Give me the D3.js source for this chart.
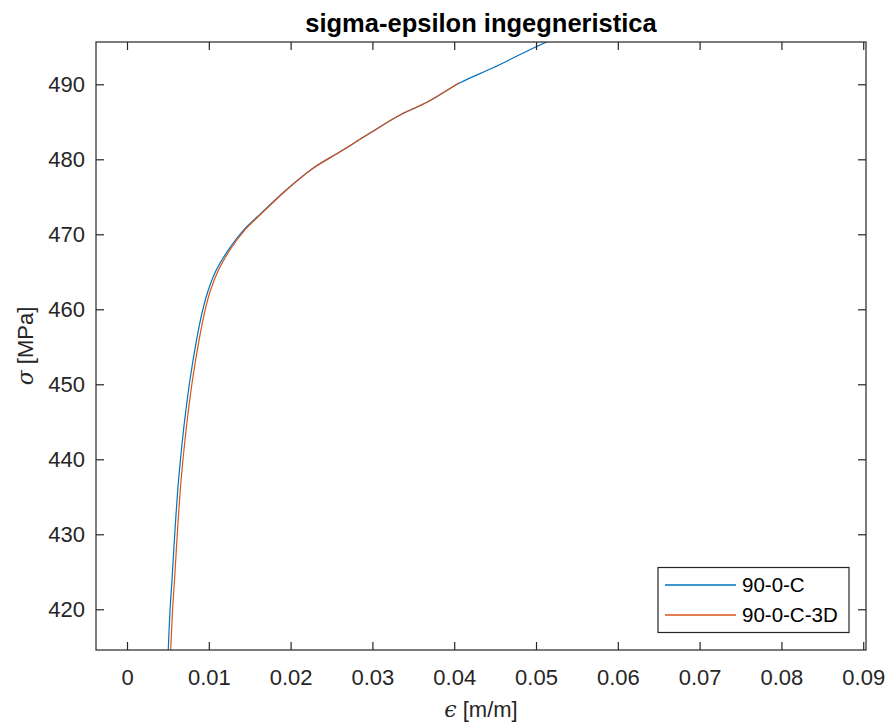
<!DOCTYPE html>
<html>
<head>
<meta charset="utf-8">
<script src="https://cdn.jsdelivr.net/npm/d3@7"></script>
<style>
  html, body { margin: 0; padding: 0; background: #ffffff; }
  svg { display: block; font-family: "Liberation Sans", Arial, Helvetica, sans-serif; }
</style>
</head>
<body>
<svg id="chart" width="889" height="727"></svg>
<script>
// ---- data ----
const seriesNames = ["90-0-C", "90-0-C-3D"];
const seriesColors = ["#0072BD", "#D95319"];

const stressBlue = [413.5, 419.9, 423.9, 430.6, 437.2, 443.9, 450.6, 455.9, 459.9, 462.6, 465.2, 467.9, 470.6, 472.3, 475.9, 478.8, 481.0, 483.5, 485.9, 487.6, 490.2, 492.2, 494.8, 496.2];
const strainBlue = [0.00500, 0.00526, 0.00550, 0.00587, 0.00630, 0.00691, 0.00770, 0.00850, 0.00925, 0.00995, 0.01090, 0.01238, 0.01428, 0.01590, 0.01945, 0.02274, 0.02604, 0.02971, 0.03337, 0.03667, 0.04071, 0.04474, 0.04963, 0.05240];

const stressOrange = [413.5, 419.9, 423.9, 430.6, 437.2, 443.9, 450.6, 455.9, 459.9, 462.6, 465.2, 467.9, 470.6, 472.3, 475.9, 478.8, 481.0, 483.5, 485.9, 487.6, 490.2];
const strainOrange = [0.00530, 0.00557, 0.00581, 0.00618, 0.00661, 0.00722, 0.00801, 0.00881, 0.00955, 0.01023, 0.01117, 0.01258, 0.01442, 0.01600, 0.01950, 0.02274, 0.02604, 0.02971, 0.03337, 0.03667, 0.04060];

const xTicks = [0, 0.01, 0.02, 0.03, 0.04, 0.05, 0.06, 0.07, 0.08, 0.09];
const yTicks = [420, 430, 440, 450, 460, 470, 480, 490];
const xDomain = [-0.00379, 0.09034];
const yDomain = [414.57, 495.64];

const titleText = "sigma-epsilon ingegneristica";

// ---- layout ----
const svg = d3.select("#chart");
const L = 96, R = 866, T = 42, B = 650;
const ink = "#262626";

const x = d3.scaleLinear().domain(xDomain).range([L, R]);
const y = d3.scaleLinear().domain(yDomain).range([B, T]);

svg.append("rect").attr("x", 0).attr("y", 0).attr("width", 889).attr("height", 727).attr("fill", "#fff");

svg.append("defs").append("clipPath").attr("id", "clip")
  .append("rect").attr("x", L).attr("y", T).attr("width", R - L).attr("height", B - T);

// curves
const line = d3.line().x(d => x(d[0])).y(d => y(d[1])).curve(d3.curveCatmullRom.alpha(0.5));
const blue = strainBlue.map((e, i) => [e, stressBlue[i]]);
const orange = strainOrange.map((e, i) => [e, stressOrange[i]]);
const g = svg.append("g").attr("clip-path", "url(#clip)");
g.append("path").datum(blue).attr("d", line).attr("fill", "none").attr("stroke", seriesColors[0]).attr("stroke-width", 1.2);
g.append("path").datum(orange).attr("d", line).attr("fill", "none").attr("stroke", seriesColors[1]).attr("stroke-width", 1.2);

// axes (ticks inward, box on)
const tickLen = 8;
const fmtX = d => d === 0 ? "0" : d3.format(".2f")(d);
const axB = d3.axisBottom(x).tickValues(xTicks).tickSize(-tickLen).tickPadding(19).tickFormat(fmtX);
const axT = d3.axisTop(x).tickValues(xTicks).tickSize(-tickLen).tickFormat("");
const axL = d3.axisLeft(y).tickValues(yTicks).tickSize(-tickLen).tickPadding(11).tickFormat(d3.format("d"));
const axR = d3.axisRight(y).tickValues(yTicks).tickSize(-tickLen).tickFormat("");

function style(sel) {
  sel.selectAll(".domain").attr("stroke", ink).attr("stroke-width", 1.2);
  sel.selectAll(".tick line").attr("stroke", ink).attr("stroke-width", 1.2);
  sel.selectAll(".tick text").attr("fill", ink).style("font-size", "22px").style("font-family", "'Liberation Sans', Arial, sans-serif");
}
svg.append("g").attr("transform", `translate(0,${B})`).call(axB).call(style);
svg.append("g").attr("transform", `translate(0,${T})`).call(axT).call(style);
svg.append("g").attr("transform", `translate(${L},0)`).call(axL).call(style);
svg.append("g").attr("transform", `translate(${R},0)`).call(axR).call(style);
svg.selectAll(".domain").attr("d", null);
svg.append("rect").attr("x", L).attr("y", T).attr("width", R - L).attr("height", B - T)
  .attr("fill", "none").attr("stroke", ink).attr("stroke-width", 1.2);

// title
svg.append("text").attr("x", (L + R) / 2).attr("y", 32).attr("text-anchor", "middle")
  .attr("fill", "#000").style("font-size", "25.5px").style("font-weight", "bold").text(titleText);

// x label
const xl = svg.append("text").attr("x", (L + R) / 2).attr("y", 717).attr("text-anchor", "middle")
  .attr("fill", ink).style("font-size", "22px");
xl.append("tspan").style("font-family", "'DejaVu Serif', serif").style("font-style", "italic").text("ϵ");
xl.append("tspan").text(" [m/m]");

// y label
const yl = svg.append("text").attr("transform", `translate(33,${(T + B) / 2}) rotate(-90)`)
  .attr("text-anchor", "middle").attr("fill", ink).style("font-size", "22px");
yl.append("tspan").style("font-family", "'DejaVu Serif', serif").style("font-style", "italic").text("σ");
yl.append("tspan").text(" [MPa]");

// legend
const lg = svg.append("g");
lg.append("rect").attr("x", 658).attr("y", 567.5).attr("width", 191).attr("height", 65)
  .attr("fill", "#fff").attr("stroke", ink).attr("stroke-width", 1.2);
seriesNames.forEach((name, i) => {
  const cy = 585 + i * 30;
  lg.append("line").attr("x1", 665).attr("x2", 736).attr("y1", cy).attr("y2", cy)
    .attr("stroke", seriesColors[i]).attr("stroke-width", 1.3);
  lg.append("text").attr("x", 742).attr("y", cy).attr("dy", "0.35em").attr("fill", "#000")
    .style("font-size", "20.5px").text(name);
});
</script>
</body>
</html>
